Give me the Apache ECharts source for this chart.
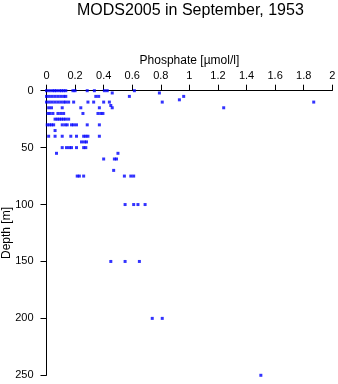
<!DOCTYPE html>
<html><head><meta charset="utf-8">
<script src="https://cdn.jsdelivr.net/npm/echarts@6/dist/echarts.min.js"></script>
<style>html,body{margin:0;padding:0;background:#fff}#c{width:338px;height:384px}</style>
</head><body><div id="c"></div>
<script>
var titleText = "MODS2005 in September, 1953";
var xName = "Phosphate [\u00b5mol/l]";
var yName = "Depth [m]";
var xTicks = [0, 0.2, 0.4, 0.6, 0.8, 1, 1.2, 1.4, 1.6, 1.8, 2];
var yTicks = [0, 50, 100, 150, 200, 250];

var depths = [0, 2, 5, 8, 10, 13, 15, 20, 25, 30, 35, 40, 45, 50, 55, 60, 70, 75, 100, 150, 200, 250];
var p0 = [0.0, 0.02, 0.04, 0.055, 0.07, 0.09, 0.105, 0.12, 0.135, 0.185, 0.2, 0.285, 0.335, 0.405, 0.425, 0.615];
var p2 = [0.46, 0.79];
var p5 = [0, 0.02, 0.04, 0.06, 0.08, 0.1, 0.12, 0.135, 0.345, 0.365, 0.58, 0.96];
var p8 = [0.93];
var p10 = [0, 0.02, 0.04, 0.06, 0.08, 0.1, 0.12, 0.135, 0.155, 0.19, 0.29, 0.33, 0.4, 0.44, 0.81, 1.87];
var p13 = [0.45];
var p15 = [0.015, 0.035, 0.11, 0.24, 0.37, 0.46, 1.24];
var p20 = [0.01, 0.025, 0.045, 0.08, 0.1, 0.12, 0.255, 0.36, 0.38, 0.395];
var p25 = [0.06, 0.075, 0.09, 0.105, 0.12, 0.135, 0.155];
var p30 = [0.005, 0.02, 0.035, 0.05, 0.11, 0.13, 0.145, 0.175, 0.19, 0.21, 0.285, 0.37];
var p35 = [0.06];
var p40 = [0.015, 0.06, 0.11, 0.17, 0.21, 0.26, 0.275, 0.29, 0.37];
var p45 = [0.245, 0.265, 0.28];
var p50 = [0.11, 0.14, 0.16, 0.175, 0.21, 0.26, 0.275];
var p55 = [0.07, 0.5];
var p60 = [0.4, 0.475, 0.49];
var p70 = [0.47];
var p75 = [0.215, 0.23, 0.26, 0.545, 0.59, 0.61];
var p100 = [0.55, 0.61, 0.64, 0.69];
var p150 = [0.45, 0.55, 0.65];
var p200 = [0.74, 0.81];
var p250 = [1.5];

var byDepth = [p0, p2, p5, p8, p10, p13, p15, p20, p25, p30, p35, p40, p45, p50, p55, p60, p70, p75, p100, p150, p200, p250];
var pts = [];
depths.forEach(function (d, i) { byDepth[i].forEach(function (v) { pts.push([v, d]); }); });

var font = "'Liberation Sans', Arial, Helvetica, sans-serif";
var chart = echarts.init(document.getElementById('c'), null, {renderer: 'canvas'});
chart.setOption({
  animation: false,
  backgroundColor: '#ffffff',
  title: {text: titleText, left: 72, top: -2,
    textStyle: {fontFamily: font, fontWeight: 'normal', fontSize: 16, color: '#000'}},
  grid: {left: 46.5, right: 5.7, top: 90.7, bottom: 8.7, containLabel: false, outerBoundsMode: 'none'},
  xAxis: {
    type: 'value', position: 'top', min: xTicks[0], max: xTicks[xTicks.length - 1], interval: 0.2,
    name: xName, nameLocation: 'middle', nameGap: 24, nameMoveOverlap: false,
    nameTextStyle: {fontFamily: font, fontSize: 12, color: '#000'},
    axisLine: {show: true, lineStyle: {color: '#000', width: 1}},
    axisTick: {show: true, length: 6, lineStyle: {color: '#000'}},
    axisLabel: {fontFamily: font, fontSize: 11, color: '#000', margin: 9,
      formatter: function (v) { return String(Math.round(v * 10) / 10); }},
    splitLine: {show: false}
  },
  yAxis: {
    type: 'value', inverse: true, min: yTicks[0], max: yTicks[yTicks.length - 1], interval: 50,
    name: yName, nameLocation: 'middle', nameGap: 34, nameRotate: 90, nameMoveOverlap: false,
    nameTextStyle: {fontFamily: font, fontSize: 12, color: '#000'},
    axisLine: {show: true, lineStyle: {color: '#000', width: 1}},
    axisTick: {show: true, length: 6, lineStyle: {color: '#000'}},
    axisLabel: {fontFamily: font, fontSize: 11, color: '#000', margin: 13},
    splitLine: {show: false}
  },
  series: [{
    type: 'scatter', data: pts, symbol: 'rect', symbolSize: 3,
    itemStyle: {color: '#0000ff'}, silent: true
  }]
});
</script></body></html>
